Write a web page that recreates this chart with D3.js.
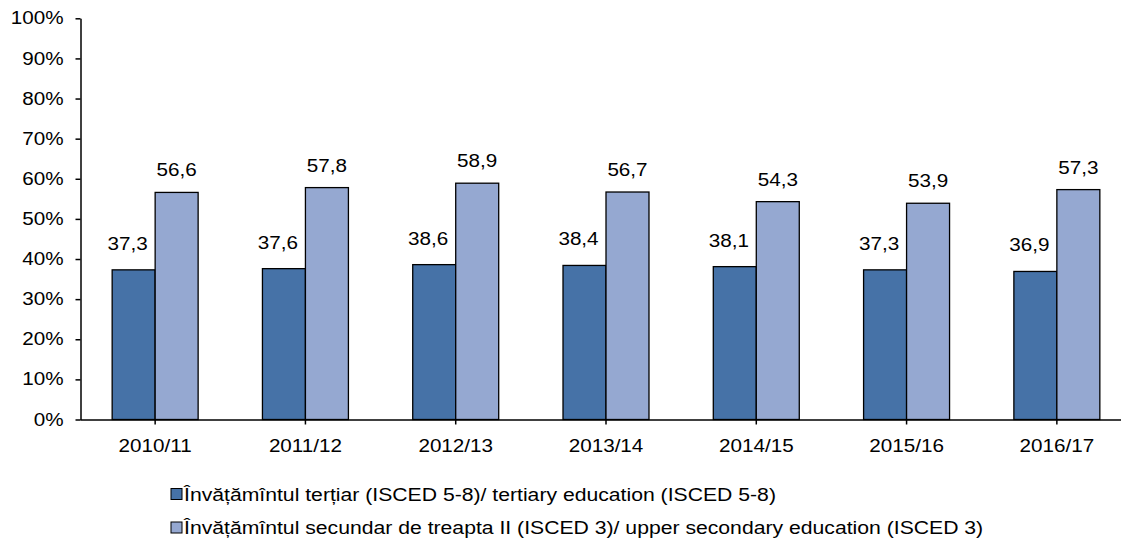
<!DOCTYPE html>
<html>
<head>
<meta charset="utf-8">
<script src="https://cdn.jsdelivr.net/npm/d3@7"></script>
<style>
  body { margin: 0; background: #fff; }
  text { font-family: "Liberation Sans", Arial, sans-serif; fill: #000; }
</style>
</head>
<body>
<svg id="chart" width="1121" height="544"></svg>
<script>
// chart values
const years = ["2010/11", "2011/12", "2012/13", "2013/14", "2014/15", "2015/16", "2016/17"];
const tertiary = [37.3, 37.6, 38.6, 38.4, 38.1, 37.3, 36.9];
const upperSecondary = [56.6, 57.8, 58.9, 56.7, 54.3, 53.9, 57.3];
const seriesNames = [
  "Învățămîntul terțiar (ISCED 5-8)/ tertiary education (ISCED 5-8)",
  "Învățămîntul secundar de treapta II (ISCED 3)/ upper secondary education (ISCED 3)"
];
const yTicks = [0, 10, 20, 30, 40, 50, 60, 70, 80, 90, 100];

const colors = ["#4672a7", "#95a8d1"];
const fontSize = 17.5;

const svg = d3.select("#chart");

// text in the reference is a bit wider than the font, stretch it
function stretch(factor) {
  return function(sel) {
    sel.each(function() {
      const w = this.getComputedTextLength();
      d3.select(this)
        .attr("textLength", w * factor)
        .attr("lengthAdjust", "spacingAndGlyphs");
    });
  };
}

const y = d3.scaleLinear().domain([0, 100]).range([419.5, 18.3]);
const x0 = d3.scaleBand().domain(years).range([80, 1132]);
const x1 = d3.scaleBand().domain([0, 1]).range([0, x0.bandwidth()])
  .paddingInner(0).paddingOuter(0.748);

const rows = years.map(function(year, i) {
  return { year: year, values: [tertiary[i], upperSecondary[i]] };
});

// bars
const groups = svg.append("g").selectAll("g")
  .data(rows)
  .join("g")
  .attr("transform", function(d) { return "translate(" + x0(d.year) + ",0)"; });

groups.selectAll("rect")
  .data(function(d) { return d.values.map(function(v, k) { return { k: k, v: v }; }); })
  .join("rect")
  .attr("x", function(d) { return x1(d.k); })
  .attr("y", function(d) { return y(d.v); })
  .attr("width", x1.bandwidth())
  .attr("height", function(d) { return y(0) - y(d.v); })
  .attr("fill", function(d) { return colors[d.k]; })
  .attr("stroke", "#000")
  .attr("stroke-width", 1.3);

// value labels
groups.selectAll("text")
  .data(function(d) { return d.values.map(function(v, k) { return { k: k, v: v }; }); })
  .join("text")
  .attr("x", function(d) { return x1(d.k) + x1.bandwidth() / 2 + (d.k === 0 ? -6 : 0); })
  .attr("y", function(d) { return y(d.v) - (d.k === 0 ? 20 : 16); })
  .attr("text-anchor", "middle")
  .style("font-size", fontSize + "px")
  .text(function(d) { return d3.format(".1f")(d.v).replace(".", ","); })
  .call(stretch(1.18));

// axes
const yAxis = svg.append("g")
  .attr("transform", "translate(80.5,0)")
  .call(d3.axisLeft(y).tickValues(yTicks).tickSize(5).tickSizeOuter(0).tickPadding(12)
    .tickFormat(function(d) { return d + "%"; }));

const xAxis = svg.append("g")
  .attr("transform", "translate(0,419.5)")
  .call(d3.axisBottom(x0).tickSize(5).tickSizeOuter(0).tickPadding(14.6));

[yAxis, xAxis].forEach(function(ax) {
  ax.attr("font-family", null).attr("font-size", null);
  ax.selectAll("path, line").attr("stroke", "#000").attr("stroke-width", 1.5);
  ax.selectAll("text").style("font-size", fontSize + "px").attr("fill", "#000").call(stretch(1.18));
});

// legend
const legend = svg.append("g").selectAll("g")
  .data(seriesNames)
  .join("g")
  .attr("transform", function(d, i) { return "translate(171," + (488.5 + i * 33.5) + ")"; });

legend.append("rect")
  .attr("width", 11)
  .attr("height", 11)
  .attr("fill", function(d, i) { return colors[i]; })
  .attr("stroke", "#000")
  .attr("stroke-width", 1);

legend.append("text")
  .attr("x", 13)
  .attr("y", 12)
  .style("font-size", fontSize + "px")
  .text(function(d) { return d; })
  .call(stretch(1.21));
</script>
</body>
</html>
